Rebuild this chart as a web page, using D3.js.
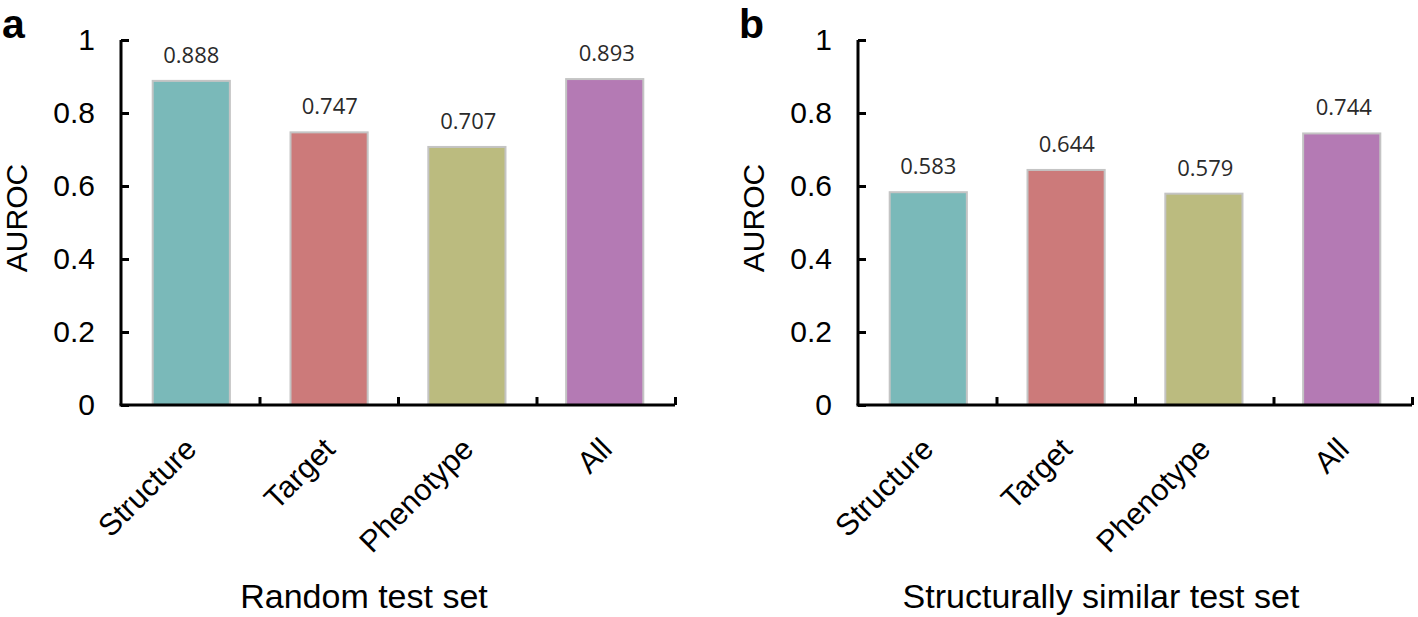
<!DOCTYPE html>
<html><head><meta charset="utf-8">
<script src="https://cdn.jsdelivr.net/npm/d3@7"></script>
<style>body{margin:0;background:#fff}</style>
</head><body>
<svg id="c" width="1418" height="617"></svg>
<script>
const categories = ["Structure", "Target", "Phenotype", "All"];
const randomValues = [0.888, 0.747, 0.707, 0.893];
const similarValues = [0.583, 0.644, 0.579, 0.744];
const yTicks = [0, 0.2, 0.4, 0.6, 0.8, 1];
const colors = ["#7AB9B9", "#CC7A7A", "#BBBB7F", "#B47AB4"];
const panels = [
  {letter: "a", values: randomValues, title: "Random test set", x0: 121, x1: 675},
  {letter: "b", values: similarValues, title: "Structurally similar test set", x0: 858, x1: 1412}
];

const svg = d3.select("#c");
const plotTop = 40, plotBottom = 405;
const y = d3.scaleLinear().domain([0, 1]).range([plotBottom, plotTop]);

panels.forEach(p => {
  const g = svg.append("g");
  const x = d3.scaleBand().domain(categories).range([p.x0, p.x1]).paddingInner(0.44).paddingOuter(0.23);
  const xb = d3.scaleBand().domain(categories).range([p.x0, p.x1]);

  // bars
  g.selectAll("rect.bar").data(p.values).join("rect")
    .attr("x", (d, i) => x(categories[i]))
    .attr("y", d => y(d))
    .attr("width", x.bandwidth())
    .attr("height", d => plotBottom - y(d))
    .attr("fill", (d, i) => colors[i])
    .attr("stroke", "#c4c4c4").attr("stroke-width", 2);

  // value labels
  g.selectAll("text.val").data(p.values).join("text")
    .attr("x", (d, i) => xb(categories[i]) + xb.bandwidth() / 2 + 1)
    .attr("y", d => y(d) - 18)
    .attr("text-anchor", "middle")
    .attr("font-family", "Open Sans, sans-serif").attr("font-size", 22)
    .attr("fill", "#2a2a2a")
    .text(d => d.toFixed(3));

  // y axis
  const yAxis = d3.axisLeft(y).tickValues(yTicks).tickSize(-8).tickPadding(26)
    .tickFormat(d => d === 0 || d === 1 ? String(d) : d3.format(".1f")(d));
  const ya = g.append("g").attr("transform", `translate(${p.x0},0)`).call(yAxis);
  ya.select(".domain").attr("stroke", "#000").attr("stroke-width", 3).attr("d", `M-0,${plotTop}V${plotBottom}`);
  ya.selectAll(".tick line").attr("stroke", "#000").attr("stroke-width", 3);
  ya.selectAll(".tick text").attr("font-family", "Liberation Sans, Arial, sans-serif").attr("font-size", 30).attr("fill", "#000");

  // x axis (ticks at band boundaries)
  const xl = d3.scaleLinear().domain([0, 4]).range([p.x0, p.x1]);
  const xAxis = d3.axisBottom(xl).tickValues([1, 2, 3, 4]).tickSize(-8).tickFormat("");
  const xa = g.append("g").attr("transform", `translate(0,${plotBottom})`).call(xAxis);
  xa.select(".domain").attr("stroke", "#000").attr("stroke-width", 3).attr("d", `M${p.x0 - 1.5},0H${p.x1}`);
  xa.selectAll(".tick line").attr("stroke", "#000").attr("stroke-width", 3);

  // category labels
  g.selectAll("text.cat").data(categories).join("text")
    .attr("transform", d => `translate(${xb(d) + xb.bandwidth() / 2 + 8},451) rotate(-45)`)
    .attr("text-anchor", "end")
    .attr("font-family", "Liberation Sans, Arial, sans-serif").attr("font-size", 30.5)
    .attr("fill", "#000")
    .text(d => d);

  // y title
  g.append("text")
    .attr("transform", `translate(${p.x0 - 94},218) rotate(-90)`)
    .attr("text-anchor", "middle")
    .attr("font-family", "Liberation Sans, Arial, sans-serif").attr("font-size", 30)
    .text("AUROC");

  // x title
  g.append("text")
    .attr("x", (p.x0 + p.x1) / 2 - 34).attr("y", 608)
    .attr("text-anchor", "middle")
    .attr("font-family", "Liberation Sans, Arial, sans-serif").attr("font-size", 34)
    .text(p.title);

  // panel letter
  g.append("text")
    .attr("x", p.x0 - 119).attr("y", 38)
    .attr("font-family", "Liberation Sans, Arial, sans-serif").attr("font-weight", "bold").attr("font-size", 41)
    .text(p.letter);
});
</script>
</body></html>
